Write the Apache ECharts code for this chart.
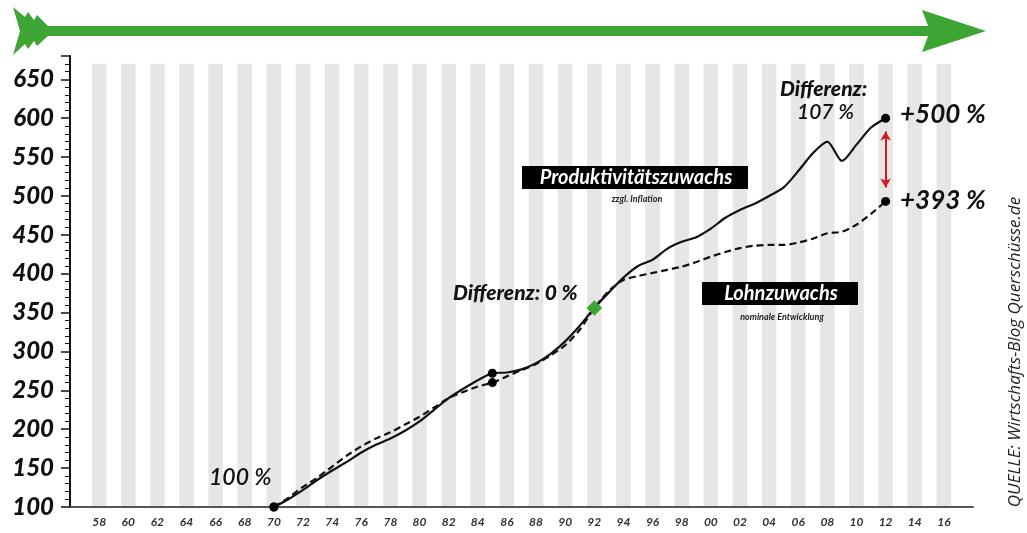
<!DOCTYPE html>
<html>
<head>
<meta charset="utf-8">
<title>Produktivität vs. Lohn</title>
<script src="https://cdn.jsdelivr.net/npm/echarts@6/dist/echarts.min.js"></script>
<style>
  html, body { margin: 0; padding: 0; background: #fff; }
  #chart { width: 1027px; height: 533px; }
</style>
</head>
<body>
<div id="chart"></div>
<script>
  // Jahre 1970-2012
  const years = [1970, 1971, 1972, 1973, 1974, 1975, 1976, 1977, 1978, 1979,
    1980, 1981, 1982, 1983, 1984, 1985, 1986, 1987, 1988, 1989,
    1990, 1991, 1992, 1993, 1994, 1995, 1996, 1997, 1998, 1999,
    2000, 2001, 2002, 2003, 2004, 2005, 2006, 2007, 2008, 2009,
    2010, 2011, 2012]
  // Produktivitätszuwachs zzgl. Inflation (1970 = 100)
  const produktivitaet = [100, 110, 122, 135, 147, 158, 170, 180, 188, 198,
    210, 225, 240, 252, 263, 272, 273, 277, 285, 297,
    313, 333, 356, 376, 395, 410, 418, 432, 441, 447,
    458, 472, 482, 490, 500, 511, 532, 555, 570, 545,
    566, 588, 600]
  // Lohnzuwachs nominal (1970 = 100)
  const lohn = [100, 112, 126, 138, 152, 166, 178, 188, 196, 206,
    216, 228, 240, 248, 255, 260, 268, 276, 284, 295,
    308, 328, 356, 378, 392, 397, 401, 405, 409, 415,
    422, 428, 433, 436, 437, 437, 440, 445, 452, 454,
    463, 477, 493]
  // markierte Punkte
  const dotYears = [1970, 1985, 2012]
  const equalYear = 1992
  // Achsenbeschriftung (gerade Jahre mit grauem Streifen)
  const tickYears = []
  for (let y = 1958; y <= 2016; y += 2) tickYears.push(y)

  const pick = (arr, yrs) => yrs.map(y => [y, arr[years.indexOf(y)]])
  const lastProd = produktivitaet[produktivitaet.length - 1]
  const lastLohn = lohn[lohn.length - 1]

  const green = '#3ea535'
  const font = 'Lato, "Open Sans", sans-serif'

  // Pfeil und Beschriftungen
  const graphics = [
    { type: 'rect', shape: { x: 40, y: 26, width: 890, height: 10 }, style: { fill: green } },
    {
      type: 'polygon',
      shape: { points: [[922, 10], [986, 31], [922, 52], [930, 31]] },
      style: { fill: green }
    },
    {
      type: 'polygon',
      shape: {
        points: [[13, 7], [25, 17], [28, 12], [34, 20], [37, 15], [48, 26], [48, 36],
          [37, 46], [34, 41], [28, 49], [25, 44], [13, 55], [20, 31]]
      },
      style: { fill: green }
    },
    {
      type: 'text', left: 209, top: 466,
      style: { text: '100 %', font: 'italic 600 23px ' + font, fill: '#111' }
    },
    {
      type: 'text', left: 453, top: 283,
      style: { text: 'Differenz: 0 %', font: 'italic 900 21px ' + font, fill: '#111' }
    },
    {
      type: 'text', left: 780, top: 79,
      style: { text: 'Differenz:', font: 'italic 900 21px ' + font, fill: '#111' }
    },
    {
      type: 'text', left: 797, top: 102,
      style: { text: '107 %', font: 'italic 600 21px ' + font, fill: '#111' }
    },
    {
      type: 'text', left: 900, top: 102,
      style: { text: '+500 %', font: 'italic 700 26px ' + font, fill: '#111' }
    },
    {
      type: 'text', left: 900, top: 188,
      style: { text: '+393 %', font: 'italic 700 26px ' + font, fill: '#111' }
    },
    { type: 'rect', shape: { x: 522, y: 166, width: 226, height: 23 }, style: { fill: '#000' } },
    {
      type: 'text', x: 636, y: 178,
      style: { text: 'Produktivitätszuwachs', font: 'italic 700 20px ' + font, fill: '#fff', align: 'center', verticalAlign: 'middle' }
    },
    {
      type: 'text', x: 637, y: 199,
      style: { text: 'zzgl. Inflation', font: 'italic 700 9px ' + font, fill: '#222', align: 'center', verticalAlign: 'middle' }
    },
    { type: 'rect', shape: { x: 702, y: 282, width: 156, height: 23 }, style: { fill: '#000' } },
    {
      type: 'text', x: 781, y: 294,
      style: { text: 'Lohnzuwachs', font: 'italic 700 20px ' + font, fill: '#fff', align: 'center', verticalAlign: 'middle' }
    },
    {
      type: 'text', x: 782, y: 317,
      style: { text: 'nominale Entwicklung', font: 'italic 700 9px ' + font, fill: '#222', align: 'center', verticalAlign: 'middle' }
    },
    {
      type: 'text', x: 1015, y: 352, rotation: Math.PI / 2,
      style: { text: 'QUELLE: Wirtschafts-Blog Querschüsse.de', font: 'italic 400 17px "Open Sans", sans-serif', fill: '#222', align: 'center', verticalAlign: 'middle' }
    }
  ].map(g => Object.assign({ z: 100 }, g))

  let chart = echarts.init(document.getElementById('chart'), null, { renderer: 'canvas' })
  chart.setOption({
    animation: false,
    grid: { left: 70, right: 54, top: 56, bottom: 26 },
    xAxis: {
      type: 'value',
      min: 1956,
      max: 2018,
      interval: 2,
      splitLine: { show: false },
      axisTick: { show: false },
      axisLine: { lineStyle: { color: '#555', width: 2 } },
      axisLabel: {
        showMinLabel: false,
        showMaxLabel: false,
        margin: 9,
        fontFamily: font,
        fontStyle: 'italic',
        fontWeight: 'bold',
        fontSize: 12,
        color: '#333',
        formatter: v => String(v % 100).padStart(2, '0')
      }
    },
    yAxis: {
      type: 'value',
      min: 100,
      max: 680,
      interval: 50,
      splitLine: { show: false },
      axisLine: { show: true, lineStyle: { color: '#111', width: 2 } },
      axisTick: { show: true, length: 9, lineStyle: { color: '#111', width: 1.5 } },
      minorTick: { show: true, splitNumber: 5, length: 5, lineStyle: { color: '#111', width: 1 } },
      axisLabel: {
        showMaxLabel: false,
        margin: 16,
        fontFamily: font,
        fontStyle: 'italic',
        fontWeight: 900,
        fontSize: 24,
        color: '#111'
      }
    },
    series: [
      {
        // graue Streifen
        type: 'custom',
        silent: true,
        z: 0,
        data: tickYears.map(y => [y]),
        renderItem: function(params, api) {
          const y = api.value(0)
          const p0 = api.coord([y - 0.5, 670])
          const p1 = api.coord([y + 0.5, 100])
          return {
            type: 'rect',
            shape: { x: p0[0], y: p0[1], width: p1[0] - p0[0], height: p1[1] - p0[1] },
            style: { fill: '#e6e6e6' }
          }
        }
      },
      {
        name: 'Lohnzuwachs',
        type: 'line',
        z: 3,
        smooth: 0.25,
        symbol: 'none',
        data: years.map((y, i) => [y, lohn[i]]),
        lineStyle: { color: '#111', width: 2.2, type: [7, 4] }
      },
      {
        name: 'Produktivitätszuwachs',
        type: 'line',
        z: 4,
        smooth: 0.25,
        symbol: 'none',
        data: years.map((y, i) => [y, produktivitaet[i]]),
        lineStyle: { color: '#111', width: 2.2 },
        markLine: {
          silent: true,
          symbol: ['arrow', 'arrow'],
          symbolSize: [8, 9],
          label: { show: false },
          lineStyle: { color: '#d7191c', width: 2, type: 'solid' },
          data: [[{ coord: [2012, lastProd - 17] }, { coord: [2012, lastLohn + 18] }]]
        }
      },
      {
        type: 'scatter',
        z: 5,
        symbolSize: 9,
        itemStyle: { color: '#000', opacity: 1 },
        data: pick(produktivitaet, dotYears).concat(pick(lohn, dotYears))
      },
      {
        type: 'scatter',
        z: 6,
        symbol: 'rect',
        symbolRotate: 45,
        symbolSize: 11,
        itemStyle: { color: green, opacity: 1 },
        data: pick(produktivitaet, [equalYear])
      }
    ],
    graphic: graphics
  })
</script>
</body>
</html>
